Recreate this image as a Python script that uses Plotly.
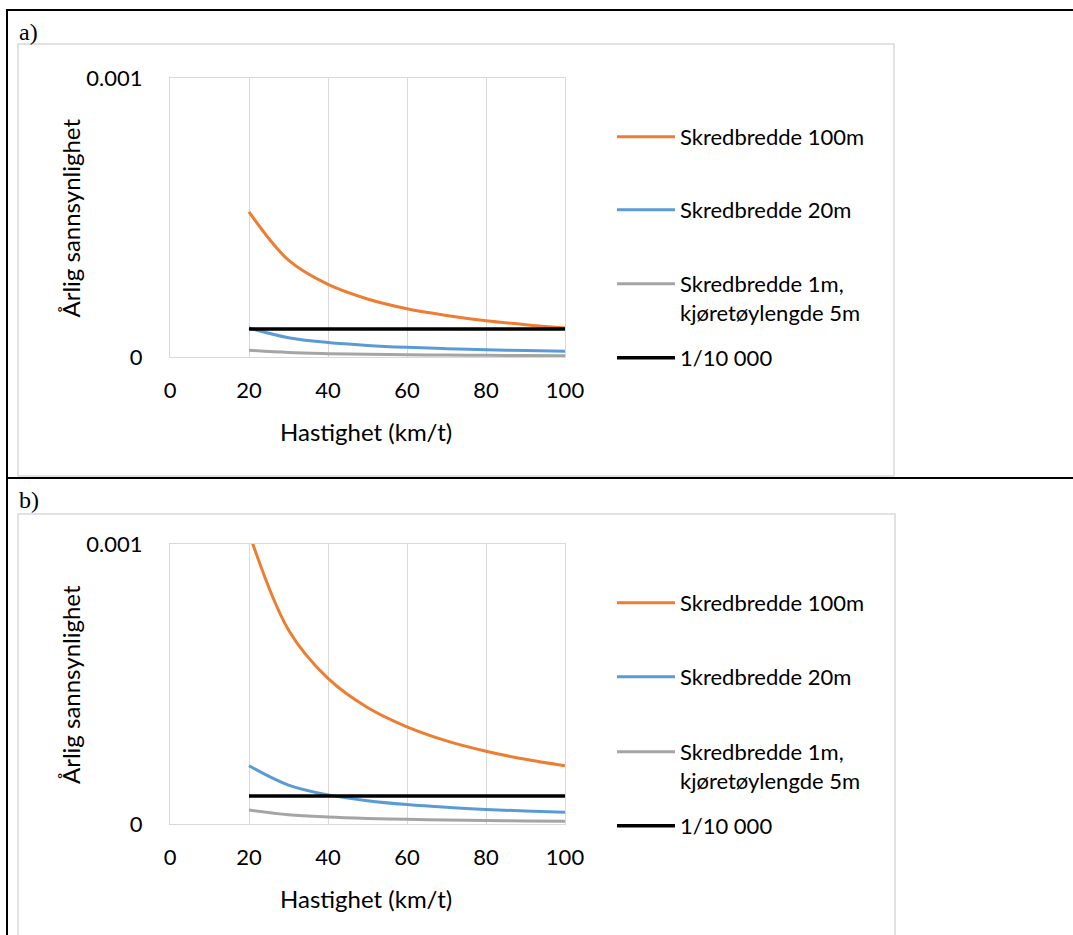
import plotly.graph_objects as go

# ---------------- data ----------------
speed = [20, 30, 40, 50, 60, 70, 80, 90, 100]

a_w100 = [0.00052, 0.000347, 0.00026, 0.000208, 0.000173, 0.000149, 0.00013, 0.000116, 0.000104]
a_w20 = [0.000104, 0.0000693, 0.000052, 0.0000416, 0.0000347, 0.0000297, 0.000026, 0.0000231, 0.0000208]
a_w1 = [0.000024, 0.000016, 0.000012, 0.0000096, 0.000008, 0.0000069, 0.000006, 0.0000053, 0.0000048]
a_limit = [0.0001] * 9

b_w100 = [0.00104, 0.000693, 0.00052, 0.000416, 0.000347, 0.000297, 0.00026, 0.000231, 0.000208]
b_w20 = [0.000208, 0.000139, 0.000104, 0.0000832, 0.0000693, 0.0000594, 0.000052, 0.0000462, 0.0000416]
b_w1 = [0.00005, 0.0000333, 0.000025, 0.00002, 0.0000167, 0.0000143, 0.0000125, 0.0000111, 0.00001]
b_limit = [0.0001] * 9

series_names = ["Skredbredde 100m", "Skredbredde 20m",
                "Skredbredde 1m,<br>kjøretøylengde 5m", "1/10 000"]
series_colors = ["#ED7D31", "#5B9BD5", "#A5A5A5", "#000000"]
series_widths = [3, 3, 3, 3.5]

x_ticks = [0, 20, 40, 60, 80, 100]
y_tickvals = [0, 0.001]
y_ticktext = ["0", "0.001"]
panel_labels = ["a)", "b)"]
x_title = "Hastighet (km/t)"
y_title = "Årlig sannsynlighet"

# ---------------- layout helpers ----------------
W, H = 1073, 935
def px(x):
    return x / W
def py(y):
    return 1 - y / H

FONT = "Lato, 'Open Sans', sans-serif"
FS = 22
FS_TITLE = 24

fig = go.Figure()

panels = [
    dict(data=[a_w100, a_w20, a_w1, a_limit], top=78, bottom=357,
         leg_y=[137, 210, 298.5, 358], xa="x", ya="y", label_y=32,
         box=(18, 44, 894, 476)),
    dict(data=[b_w100, b_w20, b_w1, b_limit], top=544, bottom=824,
         leg_y=[603, 677, 766.5, 826], xa="x2", ya="y2", label_y=500,
         box=(18, 514, 895, 945)),
]

legend_layouts = {}
li = 0
for p_i, p in enumerate(panels):
    for s_i, vals in enumerate(p["data"]):
        li += 1
        lname = "legend" if li == 1 else f"legend{li}"
        fig.add_trace(go.Scatter(
            x=speed, y=vals, mode="lines", name=series_names[s_i],
            line=dict(color=series_colors[s_i], width=series_widths[s_i],
                      shape="spline", smoothing=1.0),
            xaxis=p["xa"], yaxis=p["ya"], legend=lname, showlegend=True,
        ))
        legend_layouts[lname] = dict(
            x=px(612), y=py(p["leg_y"][s_i]), xanchor="left", yanchor="middle",
            bgcolor="rgba(0,0,0,0)", borderwidth=0, valign="top", itemwidth=58,
            font=dict(family=FONT, size=FS, color="#000000"),
        )

axis_common_x = dict(
    range=[0, 100], tickvals=x_ticks, showgrid=True, gridcolor="#D9D9D9", gridwidth=1,
    showline=True, linecolor="#D9D9D9", linewidth=1, mirror=True, zeroline=False,
    ticks="", tickfont=dict(family=FONT, size=FS, color="#000000"),
    ticklabelstandoff=14, fixedrange=True, automargin=False,
    domain=[px(170), px(565)],
)
axis_common_y = dict(
    range=[0, 0.001], tickvals=y_tickvals, ticktext=y_ticktext, showgrid=False,
    showline=True, linecolor="#D9D9D9", linewidth=1, mirror=True, zeroline=False,
    ticks="", tickfont=dict(family=FONT, size=FS, color="#000000"),
    ticklabelstandoff=22, fixedrange=True, automargin=False,
)

shapes = []
annotations = []
for p_i, p in enumerate(panels):
    x0, y0, x1, y1 = p["box"]
    shapes.append(dict(type="rect", xref="paper", yref="paper",
                       x0=px(x0), y0=py(y1), x1=px(x1), y1=py(y0),
                       line=dict(color="#D9D9D9", width=1.5), layer="below"))
    annotations.append(dict(text=panel_labels[p_i], xref="paper", yref="paper",
                            x=px(17), y=py(p["label_y"]), xanchor="left", yanchor="middle",
                            showarrow=False,
                            font=dict(family="'Liberation Serif', 'Times New Roman', serif",
                                      size=24, color="#000000")))
    annotations.append(dict(text=x_title, xref="paper", yref="paper",
                            x=px(366), y=py(p["bottom"] + 74), xanchor="center", yanchor="middle",
                            showarrow=False, font=dict(family=FONT, size=FS_TITLE, color="#000000")))
    annotations.append(dict(text=y_title, xref="paper", yref="paper", textangle=-90,
                            x=px(70), y=py((p["top"] + p["bottom"]) / 2),
                            xanchor="center", yanchor="middle",
                            showarrow=False, font=dict(family=FONT, size=FS_TITLE, color="#000000")))

shapes += [
    dict(type="line", xref="paper", yref="paper", x0=px(7), x1=1, y0=py(10), y1=py(10),
         line=dict(color="#000000", width=2)),
    dict(type="line", xref="paper", yref="paper", x0=px(7), x1=1, y0=py(478), y1=py(478),
         line=dict(color="#000000", width=2)),
    dict(type="line", xref="paper", yref="paper", x0=px(7), x1=px(7), y0=py(9), y1=0,
         line=dict(color="#000000", width=2)),
]

fig.update_layout(
    width=W, height=H, margin=dict(l=0, r=0, t=0, b=0, pad=0, autoexpand=False),
    paper_bgcolor="#FFFFFF", plot_bgcolor="#FFFFFF",
    xaxis=dict(axis_common_x, anchor="y"),
    yaxis=dict(axis_common_y, anchor="x", domain=[py(357), py(78)]),
    xaxis2=dict(axis_common_x, anchor="y2"),
    yaxis2=dict(axis_common_y, anchor="x2", domain=[py(824), py(544)]),
    shapes=shapes, annotations=annotations,
    **legend_layouts,
)

fig.write_html("out.html")
